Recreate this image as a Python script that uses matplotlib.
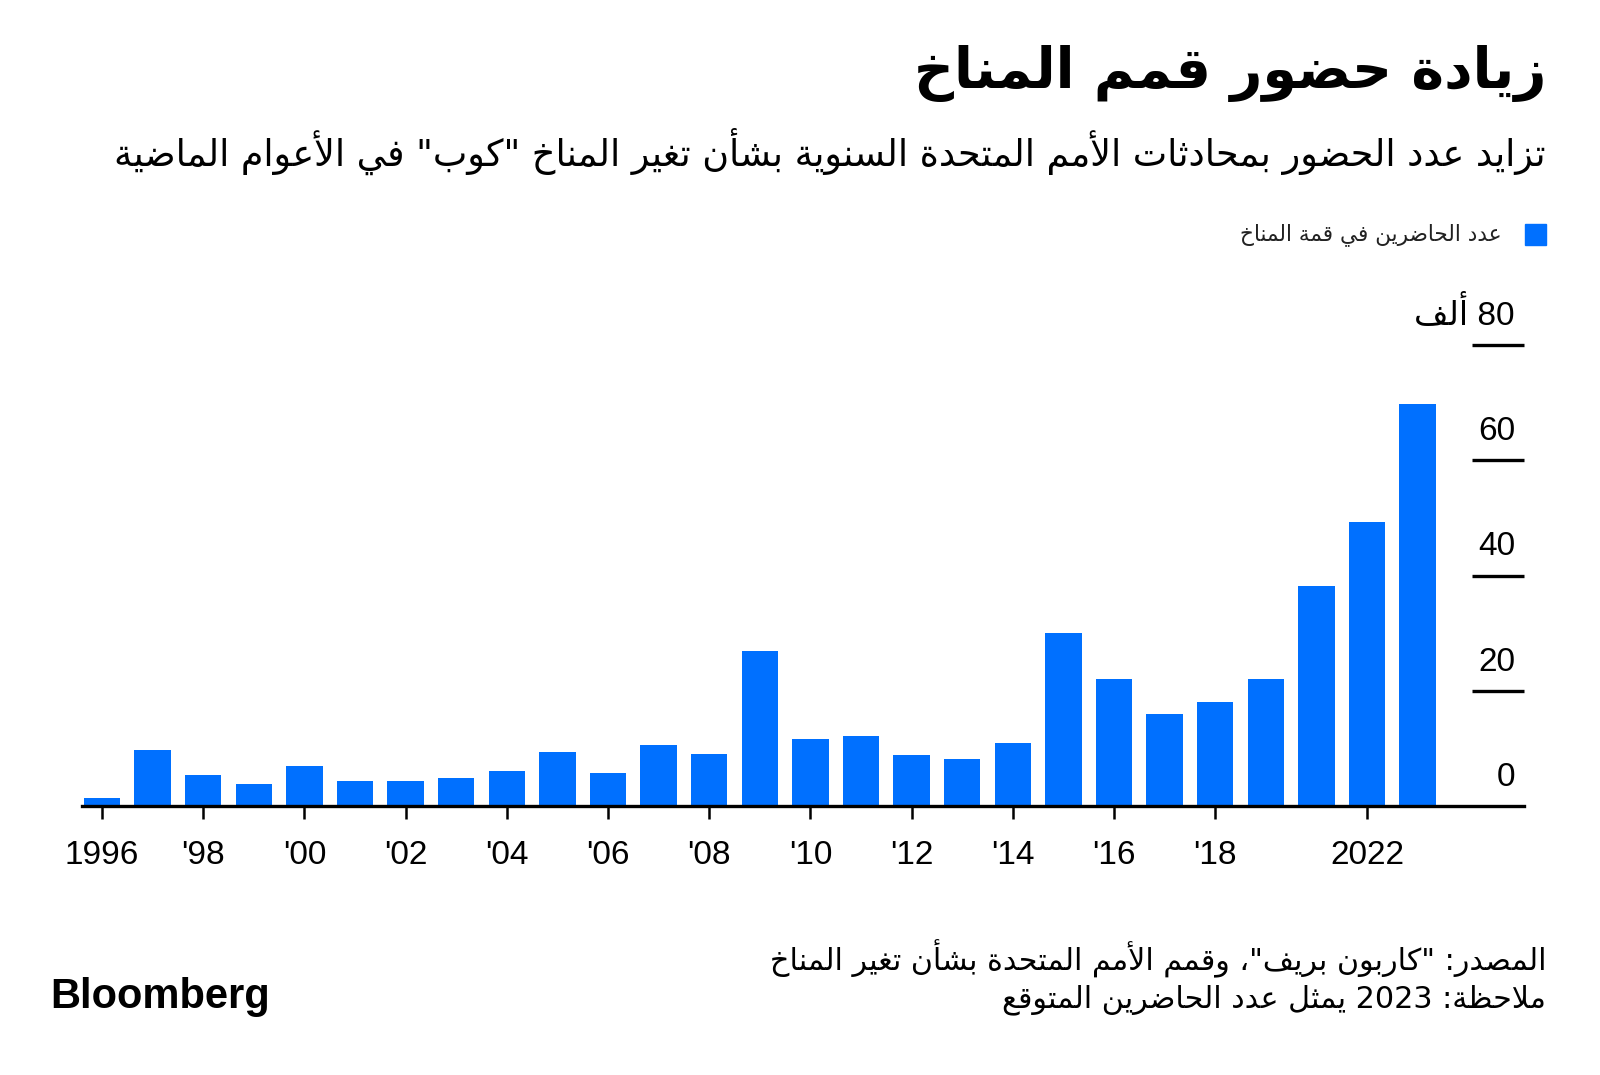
"""
Bloomberg-style bar chart: attendance at UN climate summits (COP), Arabic labels.
Arabic text is shaped by hand (presentation forms + reversed order),
since matplotlib draws glyphs left to right without shaping.
"""

import re
import matplotlib
matplotlib.use("Agg")
import matplotlib.pyplot as plt
import matplotlib.transforms as mtransforms


# ---- data -------------------------------------------------------------
YEARS = ["1996", "1997", "1998", "1999", "2000", "2001", "2002", "2003",
         "2004", "2005", "2006", "2007", "2008", "2009", "2010", "2011",
         "2012", "2013", "2014", "2015", "2016", "2017", "2018", "2019",
         "2021", "2022", "2023"]
ATTENDEES_K = [1.4, 9.7, 5.4, 3.9, 6.9, 4.3, 4.3, 4.9,
               6.1, 9.3, 5.7, 10.6, 9.0, 26.9, 11.6, 12.1,
               8.9, 8.2, 11.0, 30.0, 22.1, 15.9, 18.0, 22.1,
               38.2, 49.3, 69.8]
XTICK_YEARS = ["1996", "1998", "2000", "2002", "2004", "2006", "2008",
               "2010", "2012", "2014", "2016", "2018", "2022"]
XTICK_LABELS = ["1996", "'98", "'00", "'02", "'04", "'06", "'08",
                "'10", "'12", "'14", "'16", "'18", "2022"]
YTICKS = [20, 40, 60, 80]
YTICK_LABELS = ["20", "40", "60", "80 ألف"]

TITLE = "زيادة حضور قمم المناخ"
SUBTITLE = 'تزايد عدد الحضور بمحادثات الأمم المتحدة السنوية بشأن تغير المناخ "كوب" في الأعوام الماضية'
LEGEND_LABEL = "عدد الحاضرين في قمة المناخ"
SOURCE = 'المصدر: "كاربون بريف"، وقمم الأمم المتحدة بشأن تغير المناخ'
NOTE = "ملاحظة: 2023 يمثل عدد الحاضرين المتوقع"

BLUE = "#0070ff"
ARABIC_FONT = ["DejaVu Sans"]
NUM_FONT = ["Liberation Sans Narrow", "Liberation Sans", "DejaVu Sans"]


# ---- simple Arabic shaping ---------------------------------------------
# letter -> (first presentation form, number of forms); 2 forms = joins right only
AR_FORMS = {
    "ء": (0xFE80, 1), "آ": (0xFE81, 2), "أ": (0xFE83, 2), "ؤ": (0xFE85, 2),
    "إ": (0xFE87, 2), "ئ": (0xFE89, 4), "ا": (0xFE8D, 2), "ب": (0xFE8F, 4),
    "ة": (0xFE93, 2), "ت": (0xFE95, 4), "ث": (0xFE99, 4), "ج": (0xFE9D, 4),
    "ح": (0xFEA1, 4), "خ": (0xFEA5, 4), "د": (0xFEA9, 2), "ذ": (0xFEAB, 2),
    "ر": (0xFEAD, 2), "ز": (0xFEAF, 2), "س": (0xFEB1, 4), "ش": (0xFEB5, 4),
    "ص": (0xFEB9, 4), "ض": (0xFEBD, 4), "ط": (0xFEC1, 4), "ظ": (0xFEC5, 4),
    "ع": (0xFEC9, 4), "غ": (0xFECD, 4), "ف": (0xFED1, 4), "ق": (0xFED5, 4),
    "ك": (0xFED9, 4), "ل": (0xFEDD, 4), "م": (0xFEE1, 4), "ن": (0xFEE5, 4),
    "ه": (0xFEE9, 4), "و": (0xFEED, 2), "ى": (0xFEEF, 2), "ي": (0xFEF1, 4),
}
LAM_ALEF = {"آ": 0xFEF5, "أ": 0xFEF7, "إ": 0xFEF9, "ا": 0xFEFB}


def ar(text):
    """Return text in visual order with joined Arabic letter forms."""
    out = []
    i, n = 0, len(text)
    while i < n:
        ch = text[i]
        if ch not in AR_FORMS:
            out.append(ch)
            i += 1
            continue
        prev = text[i - 1] if i > 0 else ""
        joins_prev = prev in AR_FORMS and AR_FORMS[prev][1] == 4
        if ch == "ل" and i + 1 < n and text[i + 1] in LAM_ALEF:
            out.append(chr(LAM_ALEF[text[i + 1]] + (1 if joins_prev else 0)))
            i += 2
            continue
        base, nforms = AR_FORMS[ch]
        nxt = text[i + 1] if i + 1 < n else ""
        joins_next = nforms == 4 and nxt in AR_FORMS
        if nforms == 1:
            form = 0
        elif nforms == 2:
            form = 1 if joins_prev else 0
        else:
            form = {(False, False): 0, (True, False): 1,
                    (False, True): 2, (True, True): 3}[(joins_prev, joins_next)]
        out.append(chr(base + form))
        i += 1
    visual = "".join(reversed(out))
    # numbers / latin stay left-to-right
    return re.sub(r"[0-9A-Za-z]+", lambda m: m.group(0)[::-1], visual)


# ---- figure -----------------------------------------------------------
W, H = 1600, 1075
fig = plt.figure(figsize=(W / 100, H / 100), dpi=100)
fig.patch.set_facecolor("white")


def fx(px):
    return px / W


def fy(py):
    return 1 - py / H


# title block
fig.text(fx(1546), fy(74), ar(TITLE), ha="right", va="center",
         family=ARABIC_FONT, fontsize=40, fontweight="bold", color="black")
fig.text(fx(1546), fy(151), ar(SUBTITLE), ha="right", va="center",
         family=ARABIC_FONT, fontsize=26.3, color="black")

# legend
fig.patches.append(plt.Rectangle((fx(1525), fy(245)), fx(21), 21 / H,
                                 transform=fig.transFigure, color=BLUE))
fig.text(fx(1502), fy(235), ar(LEGEND_LABEL), ha="right", va="center",
         family=ARABIC_FONT, fontsize=15.6, color="#222222")

# plot area: baseline at y=806px, 80k at y=345px
ax_left, ax_right = 82, 1524
ax_bottom, ax_top = 806, 345
ax = fig.add_axes([fx(ax_left), fy(ax_bottom), fx(ax_right - ax_left),
                   (ax_bottom - ax_top) / H])

x = list(range(len(YEARS)))
ax.bar(x, ATTENDEES_K, width=0.72, color=BLUE, zorder=2)

step = 50.6
ax.set_xlim(-(102 - ax_left) / step, (ax_right - 102) / step)
ax.set_ylim(0, 80)

for side in ["top", "left", "right"]:
    ax.spines[side].set_visible(False)
ax.spines["bottom"].set_linewidth(2.4)
ax.spines["bottom"].set_zorder(3)

ax.set_xticks([YEARS.index(y) for y in XTICK_YEARS])
ax.set_xticklabels(XTICK_LABELS, family=NUM_FONT, fontsize=24)
ax.tick_params(axis="x", direction="out", length=9.5, width=1.8, pad=15,
               colors="black")

# y axis: short lines at the right with the value above each line
ax.set_yticks([])
trans = mtransforms.blended_transform_factory(ax.transAxes, ax.transData)
label_trans = mtransforms.offset_copy(trans, fig=fig, x=0, y=20, units="dots")
x_label = (1515 - ax_left) / (ax_right - ax_left)
x_line0 = (1472 - ax_left) / (ax_right - ax_left)
for val, lab in zip(YTICKS, YTICK_LABELS):
    ax.plot([x_line0, 1], [val, val], transform=trans, color="black",
            linewidth=2.4, clip_on=False, solid_capstyle="butt")
for val, lab in zip([0] + YTICKS, ["0"] + YTICK_LABELS):
    ax.text(x_label, val, ar(lab), transform=label_trans, ha="right",
            va="baseline", family=["Liberation Sans", "DejaVu Sans"],
            fontsize=24, color="black", clip_on=False)

# footer
fig.text(fx(1546), fy(959), ar(SOURCE), ha="right", va="center",
         family=ARABIC_FONT, fontsize=21.7, color="black")
fig.text(fx(1546), fy(1000), ar(NOTE), ha="right", va="center",
         family=ARABIC_FONT, fontsize=21.7, color="black")
fig.text(fx(50), fy(997), "Bloomberg", ha="left", va="center",
         family=["Liberation Sans", "DejaVu Sans"], fontsize=30,
         fontweight="heavy", color="black")

fig.savefig("out.png", dpi=100, facecolor="white")
